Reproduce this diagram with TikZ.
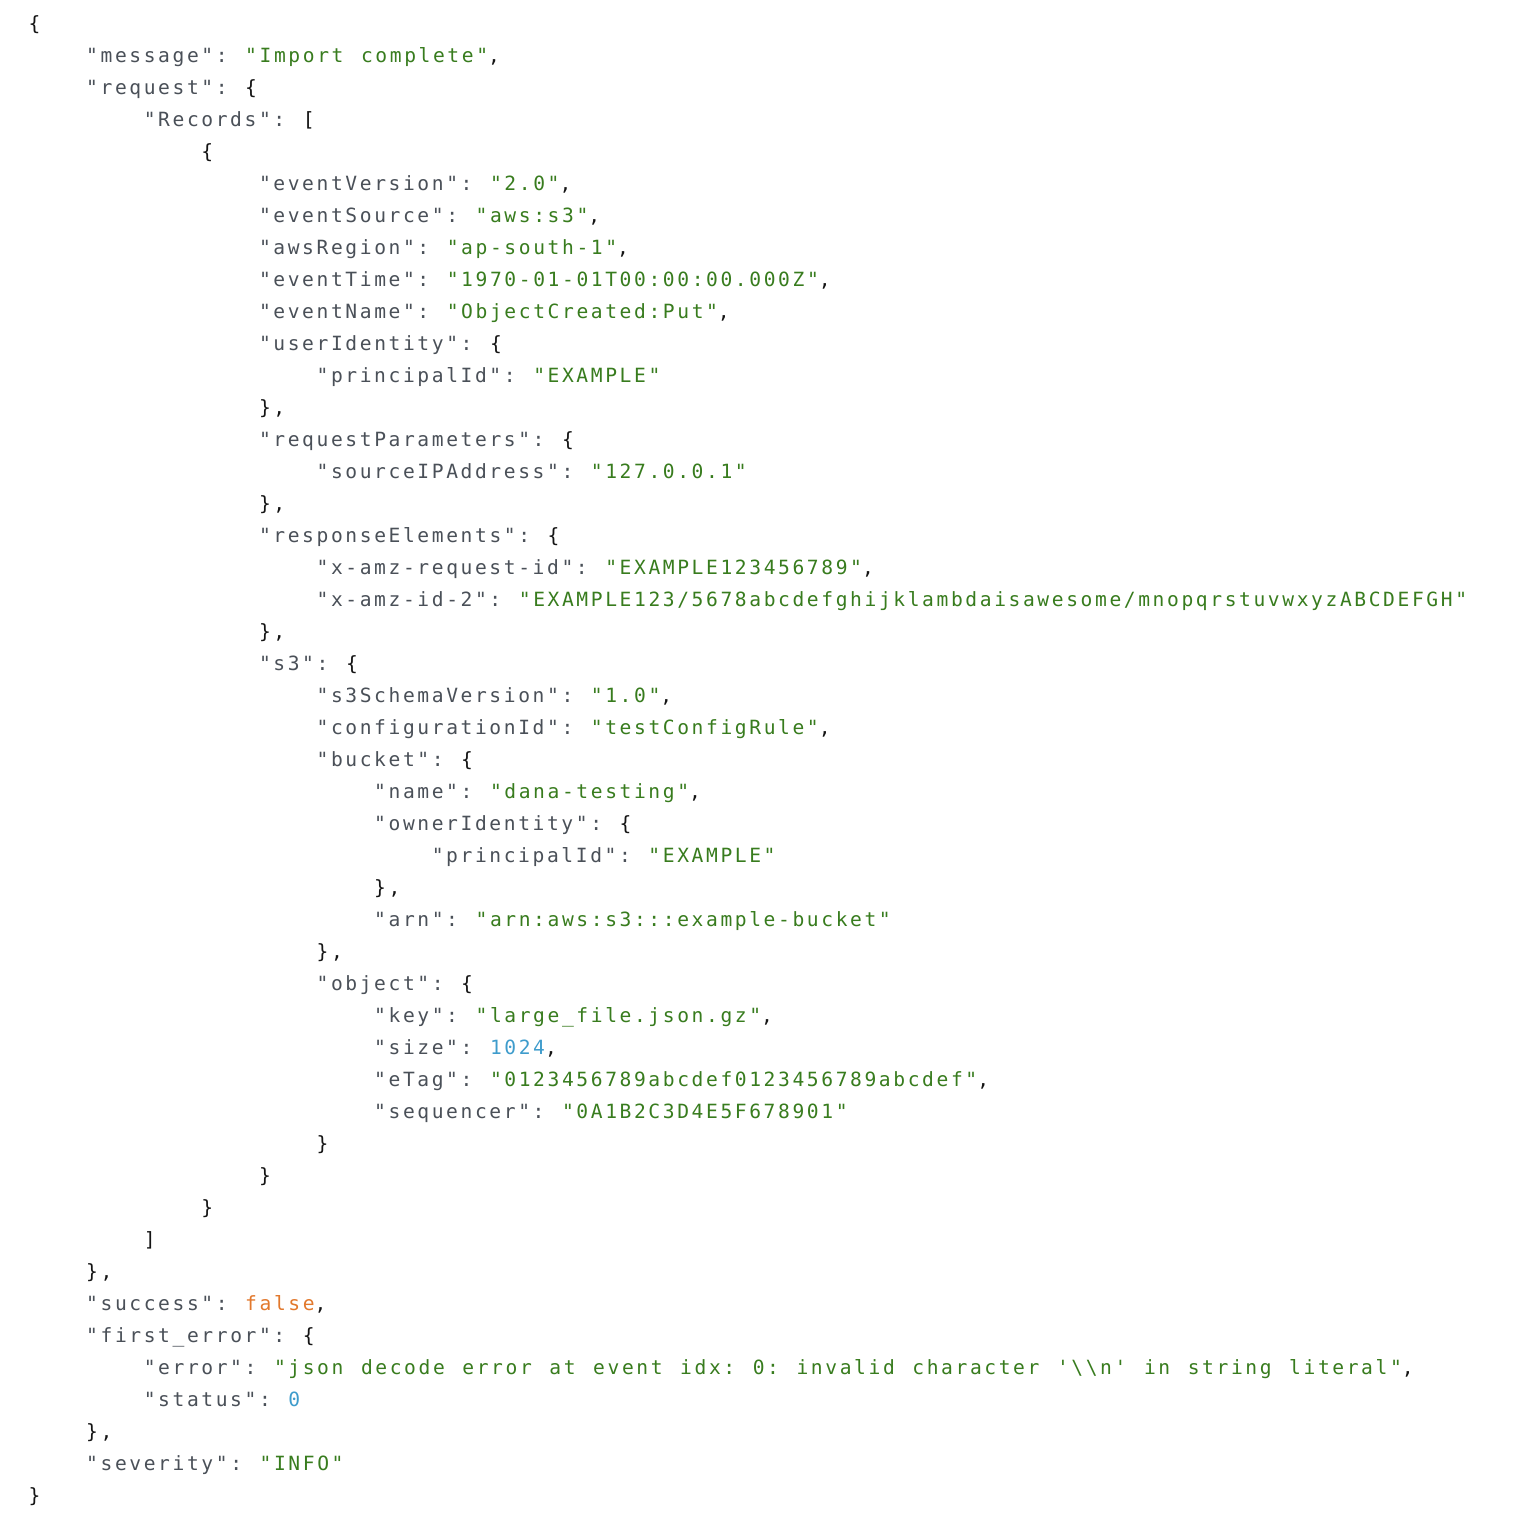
\documentclass[tikz,border=0pt]{standalone}
\usepackage{fontspec}
\setmonofont{DejaVu Sans Mono}[LetterSpace=13.3,WordSpace=1.22]
\usepackage{xcolor}
\definecolor{keygray}{RGB}{74,80,88}
\definecolor{strgreen}{RGB}{56,124,30}
\definecolor{numblue}{RGB}{62,156,204}
\definecolor{boolorange}{RGB}{226,120,44}
\definecolor{punct}{RGB}{20,20,20}
\newcommand{\jkey}[1]{\textcolor{keygray}{"#1":}}
\newcommand{\jstr}[1]{\textcolor{strgreen}{"#1"}}
\newcommand{\jnum}[1]{\textcolor{numblue}{#1}}
\newcommand{\jbool}[1]{\textcolor{boolorange}{#1}}
\tikzset{jline/.style={anchor=base west,inner sep=0pt,text=punct,
  font=\ttfamily\fontsize{19.6}{24}\selectfont}}

\begin{document}
\begin{tikzpicture}[x=14.4pt,y=-32pt]
  \fill[white] (0,0) rectangle (1512pt,-1520pt);
  \useasboundingbox (0,0) rectangle (1512pt,-1520pt);
  \begin{scope}[xshift=28.4pt,yshift=-30.7pt]
    % columns = characters, rows = lines
    \node[jline] (l1) at (0,0) {\{};
    \node[jline] (l2) at (4,1) {\jkey{message} \jstr{Import complete},};
    \node[jline] (l3) at (4,2) {\jkey{request} \{};
    \node[jline] (l4) at (8,3) {\jkey{Records} [};
    \node[jline] (l5) at (12,4) {\{};
    \node[jline] (l6) at (16,5) {\jkey{eventVersion} \jstr{2.0},};
    \node[jline] (l7) at (16,6) {\jkey{eventSource} \jstr{aws:s3},};
    \node[jline] (l8) at (16,7) {\jkey{awsRegion} \jstr{ap-south-1},};
    \node[jline] (l9) at (16,8) {\jkey{eventTime} \jstr{1970-01-01T00:00:00.000Z},};
    \node[jline] (l10) at (16,9) {\jkey{eventName} \jstr{ObjectCreated:Put},};
    \node[jline] (l11) at (16,10) {\jkey{userIdentity} \{};
    \node[jline] (l12) at (20,11) {\jkey{principalId} \jstr{EXAMPLE}};
    \node[jline] (l13) at (16,12) {\},};
    \node[jline] (l14) at (16,13) {\jkey{requestParameters} \{};
    \node[jline] (l15) at (20,14) {\jkey{sourceIPAddress} \jstr{127.0.0.1}};
    \node[jline] (l16) at (16,15) {\},};
    \node[jline] (l17) at (16,16) {\jkey{responseElements} \{};
    \node[jline] (l18) at (20,17) {\jkey{x-amz-request-id} \jstr{EXAMPLE123456789},};
    \node[jline] (l19) at (20,18) {\jkey{x-amz-id-2} \jstr{EXAMPLE123/5678abcdefghijklambdaisawesome/mnopqrstuvwxyzABCDEFGH}};
    \node[jline] (l20) at (16,19) {\},};
    \node[jline] (l21) at (16,20) {\jkey{s3} \{};
    \node[jline] (l22) at (20,21) {\jkey{s3SchemaVersion} \jstr{1.0},};
    \node[jline] (l23) at (20,22) {\jkey{configurationId} \jstr{testConfigRule},};
    \node[jline] (l24) at (20,23) {\jkey{bucket} \{};
    \node[jline] (l25) at (24,24) {\jkey{name} \jstr{dana-testing},};
    \node[jline] (l26) at (24,25) {\jkey{ownerIdentity} \{};
    \node[jline] (l27) at (28,26) {\jkey{principalId} \jstr{EXAMPLE}};
    \node[jline] (l28) at (24,27) {\},};
    \node[jline] (l29) at (24,28) {\jkey{arn} \jstr{arn:aws:s3:::example-bucket}};
    \node[jline] (l30) at (20,29) {\},};
    \node[jline] (l31) at (20,30) {\jkey{object} \{};
    \node[jline] (l32) at (24,31) {\jkey{key} \jstr{large\_file.json.gz},};
    \node[jline] (l33) at (24,32) {\jkey{size} \jnum{1024},};
    \node[jline] (l34) at (24,33) {\jkey{eTag} \jstr{0123456789abcdef0123456789abcdef},};
    \node[jline] (l35) at (24,34) {\jkey{sequencer} \jstr{0A1B2C3D4E5F678901}};
    \node[jline] (l36) at (20,35) {\}};
    \node[jline] (l37) at (16,36) {\}};
    \node[jline] (l38) at (12,37) {\}};
    \node[jline] (l39) at (8,38) {]};
    \node[jline] (l40) at (4,39) {\},};
    \node[jline] (l41) at (4,40) {\jkey{success} \jbool{false},};
    \node[jline] (l42) at (4,41) {\jkey{first\_error} \{};
    \node[jline] (l43) at (8,42) {\jkey{error} \jstr{json decode error at event idx: 0: invalid character '\textbackslash\textbackslash n' in string literal},};
    \node[jline] (l44) at (8,43) {\jkey{status} \jnum{0}};
    \node[jline] (l45) at (4,44) {\},};
    \node[jline] (l46) at (4,45) {\jkey{severity} \jstr{INFO}};
    \node[jline] (l47) at (0,46) {\}};
  \end{scope}
\end{tikzpicture}
\end{document}
